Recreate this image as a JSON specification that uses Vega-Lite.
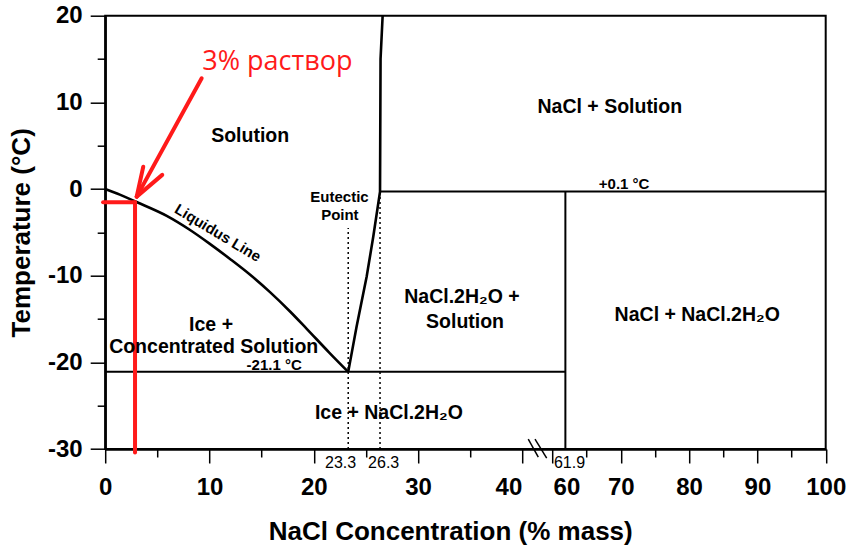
{
  "$schema": "https://vega.github.io/schema/vega-lite/v6.json",
  "width": 720.5,
  "height": 433.3,
  "autosize": {"type": "none"},
  "padding": {"left": 105.2, "top": 15.7, "right": 24.3, "bottom": 98},
  "background": "white",
  "config": {
    "view": {"stroke": "black", "strokeWidth": 2},
    "axis": {
      "grid": false,
      "domainColor": "black",
      "domainWidth": 2,
      "tickColor": "black",
      "tickWidth": 1.5,
      "labelColor": "black",
      "titleColor": "black",
      "labelFont": "Liberation Sans",
      "titleFont": "Liberation Sans",
      "labelFontWeight": "bold",
      "titleFontWeight": "bold",
      "labelFontSize": 24,
      "titleFontSize": 26,
      "labelFlush": false,
      "labelOverlap": false
    },
    "text": {"font": "Liberation Sans", "color": "black"}
  },
  "datasets": {
    "liquidus": [
      {"x": 0, "y": 0}, {"x": 1.4, "y": -0.65}, {"x": 3, "y": -1.5}, {"x": 5.9, "y": -3.1},
      {"x": 8.1, "y": -4.7}, {"x": 10, "y": -6.3}, {"x": 12, "y": -8.1}, {"x": 13.9, "y": -9.9},
      {"x": 15.8, "y": -11.9}, {"x": 17.7, "y": -14.1}, {"x": 19.3, "y": -16.1}, {"x": 21.5, "y": -18.9},
      {"x": 23.3, "y": -21.1}
    ],
    "solidus": [
      {"x": 23.3, "y": -21.1}, {"x": 24.1, "y": -15.9}, {"x": 25.07, "y": -10.1}, {"x": 25.7, "y": -5.5},
      {"x": 26.35, "y": -0.3}, {"x": 26.4, "y": 15}, {"x": 26.6, "y": 20}
    ],
    "phaseLines": [
      {"x": 0, "y": -21.1, "x2": 61.9, "y2": -21.1},
      {"x": 26.35, "y": -0.3, "x2": 100, "y2": -0.3},
      {"x": 61.9, "y": -30, "x2": 61.9, "y2": -0.3}
    ],
    "dotted": [
      {"x": 23.3, "y": -30, "x2": 23.3, "y2": -4.5},
      {"x": 26.35, "y": -30, "x2": 26.35, "y2": -0.3}
    ],
    "breakMarks": [
      {"x": 43.9, "y": -28.86, "x2": 50.6, "y2": -30.93},
      {"x": 48.4, "y": -28.86, "x2": 56.2, "y2": -31.05}
    ],
    "redLines": [
      {"x": -0.2, "y": -1.52, "x2": 2.86, "y2": -1.52},
      {"x": 2.86, "y": -1.52, "x2": 2.86, "y2": -30.4},
      {"x": 9.25, "y": 12.78, "x2": 3.02, "y2": -0.88},
      {"x": 3.02, "y": -0.88, "x2": 3.65, "y2": 2.58},
      {"x": 3.02, "y": -0.88, "x2": 5.47, "y2": 1.63}
    ],
    "bigLabels": [
      {"x": 13.9, "y": 6.1, "label": "Solution"},
      {"x": 68.4, "y": 9.47, "label": "NaCl + Solution"},
      {"x": 34.2, "y": -12.45, "label": "NaCl.2H₂O +"},
      {"x": 34.5, "y": -15.4, "label": "Solution"},
      {"x": 81.2, "y": -14.5, "label": "NaCl + NaCl.2H₂O"},
      {"x": 10.15, "y": -15.7, "label": "Ice +"},
      {"x": 10.4, "y": -18.2, "label": "Concentrated Solution"},
      {"x": 27.2, "y": -25.9, "label": "Ice + NaCl.2H₂O"}
    ],
    "smallLabels": [
      {"x": 70.5, "y": 0.59, "label": "+0.1 °C"},
      {"x": 16.2, "y": -20.3, "label": "-21.1 °C"},
      {"x": 22.46, "y": -0.91, "label": "Eutectic"},
      {"x": 22.5, "y": -2.99, "label": "Point"}
    ],
    "axisNotes": [
      {"x": 22.57, "y": -31.65, "label": "23.3"},
      {"x": 26.7, "y": -31.65, "label": "26.3"},
      {"x": 62.5, "y": -31.65, "label": "61.9"}
    ],
    "curveLabel": [
      {"x": 10.8, "y": -5.06, "label": "Liquidus Line"}
    ],
    "redText": [
      {"x": 16.5, "y": 14.66, "label": "3% раствор"}
    ]
  },
  "encoding": {
    "x": {"field": "x", "type": "quantitative", "axis": null,
      "scale": {"type": "linear", "domain": [0, 40, 60, 100], "range": [0, 417.2, 447.2, 720.5], "nice": false, "zero": false}},
    "y": {"field": "y", "type": "quantitative", "axis": null,
      "scale": {"type": "linear", "domain": [-30, 20], "nice": false, "zero": false}}
  },
  "layer": [
    {
      "data": {"name": "liquidus"},
      "mark": {"type": "line", "color": "black", "strokeWidth": 2.6, "interpolate": "monotone"},
      "encoding": {
        "x": {"field": "x", "type": "quantitative",
          "scale": {"type": "linear", "domain": [0, 40, 60, 100], "range": [0, 417.2, 447.2, 720.5], "nice": false, "zero": false},
          "axis": {
            "orient": "bottom",
            "values": [0, 10, 20, 30, 40, 60, 70, 80, 90, 100],
            "tickSize": 14,
            "labelPadding": 12,
            "labelExpr": "'' + datum.value",
            "labelOffset": {"condition": [{"test": "datum.value === 40", "value": -14}, {"test": "datum.value === 60", "value": 14}], "value": 0},
            "title": "NaCl Concentration (% mass)",
            "titlePadding": 19,
            "titleX": 345
          }},
        "y": {"field": "y", "type": "quantitative",
          "scale": {"type": "linear", "domain": [-30, 20], "nice": false, "zero": false},
          "axis": {
            "orient": "left",
            "values": [-30, -20, -10, 0, 10, 20],
            "tickSize": 15,
            "labelPadding": 8,
            "labelExpr": "'' + datum.value",
            "title": "Temperature (°C)",
            "titlePadding": 13
          }}
      }
    },
    {
      "data": {"name": "solidus"},
      "mark": {"type": "line", "color": "black", "strokeWidth": 2.6},
      "encoding": {
        "x": {"field": "x", "type": "quantitative",
          "scale": {"type": "linear", "domain": [0, 40, 60, 100], "range": [0, 417.2, 447.2, 720.5], "nice": false, "zero": false},
          "axis": {"orient": "bottom", "values": [5, 15, 25, 35, 65, 75, 85, 95], "tickSize": 8, "labels": false, "title": null}},
        "y": {"field": "y", "type": "quantitative",
          "scale": {"type": "linear", "domain": [-30, 20], "nice": false, "zero": false},
          "axis": {"orient": "left", "values": [-25, -15, -5, 5, 15], "tickSize": 8, "labels": false, "title": null}}
      }
    },
    {
      "data": {"name": "phaseLines"},
      "mark": {"type": "rule", "color": "black", "strokeWidth": 2},
      "encoding": {"x2": {"field": "x2"}, "y2": {"field": "y2"}}
    },
    {
      "data": {"name": "dotted"},
      "mark": {"type": "rule", "color": "black", "strokeWidth": 1.5, "strokeDash": [2, 3]},
      "encoding": {"x2": {"field": "x2"}, "y2": {"field": "y2"}}
    },
    {
      "data": {"name": "breakMarks"},
      "mark": {"type": "rule", "color": "black", "strokeWidth": 1.5},
      "encoding": {"x2": {"field": "x2"}, "y2": {"field": "y2"}}
    },
    {
      "data": {"name": "redLines"},
      "mark": {"type": "rule", "color": "#ff1a1a", "strokeWidth": 4, "strokeCap": "round"},
      "encoding": {"x2": {"field": "x2"}, "y2": {"field": "y2"}}
    },
    {
      "data": {"name": "bigLabels"},
      "mark": {"type": "text", "fontSize": 19.5, "fontWeight": "bold", "align": "center", "baseline": "middle"},
      "encoding": {"text": {"field": "label"}}
    },
    {
      "data": {"name": "smallLabels"},
      "mark": {"type": "text", "fontSize": 15, "fontWeight": "bold", "align": "center", "baseline": "middle"},
      "encoding": {"text": {"field": "label"}}
    },
    {
      "data": {"name": "axisNotes"},
      "mark": {"type": "text", "fontSize": 16, "align": "center", "baseline": "middle"},
      "encoding": {"text": {"field": "label"}}
    },
    {
      "data": {"name": "curveLabel"},
      "mark": {"type": "text", "fontSize": 15, "fontWeight": "bold", "align": "center", "baseline": "middle", "angle": 31},
      "encoding": {"text": {"field": "label"}}
    },
    {
      "data": {"name": "redText"},
      "mark": {"type": "text", "fontSize": 27, "font": "Open Sans", "color": "#ff1a1a", "align": "center", "baseline": "middle"},
      "encoding": {"text": {"field": "label"}}
    }
  ],
  "resolve": {"axis": {"x": "independent", "y": "independent"}}
}
